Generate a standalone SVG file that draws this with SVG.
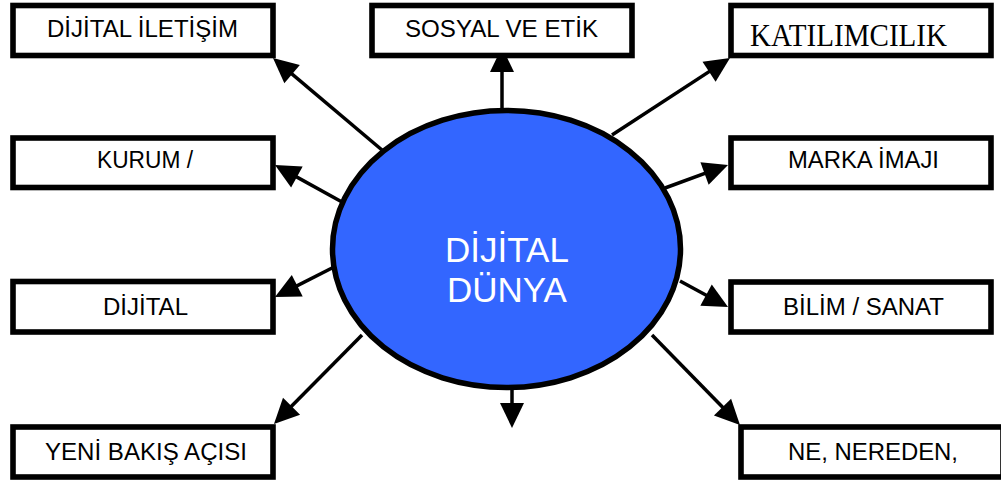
<svg xmlns="http://www.w3.org/2000/svg" width="1001" height="484" viewBox="0 0 1001 484">
  <style>
    .box { fill: #ffffff; stroke: #000000; stroke-width: 5.6; }
    .lbl { font-family: "Liberation Sans", Arial, sans-serif; font-size: 23px; fill: #000000; text-anchor: middle; }
    .serif { font-family: "Liberation Serif", "Times New Roman", serif; font-size: 31px; fill: #000000; }
    .conn { stroke: #000000; stroke-width: 3.5; fill: none; marker-end: url(#head); }
    .hub { fill: #3366FF; stroke: #000000; stroke-width: 5.5; }
    .hubtxt { font-family: "Liberation Sans", Arial, sans-serif; font-size: 35px; fill: #ffffff; text-anchor: middle; }
  </style>
  <defs>
    <marker id="head" markerUnits="userSpaceOnUse" markerWidth="26" markerHeight="25" refX="17" refY="12" orient="auto" overflow="visible">
      <path d="M0,0 L25,12 L0,24 Z" fill="#000000"/>
    </marker>
  </defs>

  <rect width="1001" height="484" fill="#ffffff"/>

  <!-- connectors from the hub outward -->
  <g id="connectors">
    <line class="conn" x1="382" y1="150" x2="279.1" y2="63.2"/>
    <line class="conn" x1="502" y1="112" x2="502" y2="55"/>
    <line class="conn" x1="612" y1="135" x2="723.3" y2="62.4"/>
    <line class="conn" x1="342" y1="202" x2="282" y2="168.9"/>
    <line class="conn" x1="334" y1="267" x2="282.1" y2="293.4"/>
    <line class="conn" x1="362" y1="335" x2="279.6" y2="418.3"/>
    <line class="conn" x1="512" y1="388" x2="512" y2="420"/>
    <line class="conn" x1="665" y1="188" x2="720.5" y2="167.7"/>
    <line class="conn" x1="680" y1="281" x2="721" y2="303.2"/>
    <line class="conn" x1="652" y1="335" x2="734.4" y2="419.3"/>
  </g>

  <!-- central hub -->
  <g id="hub">
    <ellipse class="hub" cx="506.5" cy="249" rx="174" ry="138.5"/>
    <text class="hubtxt" x="507" y="262">DİJİTAL</text>
    <text class="hubtxt" x="507" y="302">DÜNYA</text>
  </g>

  <g id="n-iletisim">
    <rect class="box" x="13" y="5.5" width="260" height="50"/>
    <text class="lbl" x="142.5" y="37" textLength="191" lengthAdjust="spacingAndGlyphs">DİJİTAL İLETİŞİM</text>
  </g>

  <g id="n-sosyal">
    <rect class="box" x="372" y="5.5" width="260" height="50"/>
    <text class="lbl" x="501.5" y="37" textLength="193" lengthAdjust="spacingAndGlyphs">SOSYAL VE ETİK</text>
  </g>

  <g id="n-katilim">
    <rect class="box" x="731" y="5.5" width="260" height="50"/>
    <text class="serif" x="750" y="46" textLength="197" lengthAdjust="spacingAndGlyphs">KATILIMCILIK</text>
  </g>

  <g id="n-kurum">
    <rect class="box" x="13" y="138" width="260" height="49.5"/>
    <text class="lbl" x="145" y="168" textLength="96" lengthAdjust="spacingAndGlyphs">KURUM /</text>
  </g>

  <g id="n-marka">
    <rect class="box" x="731" y="138" width="260" height="49.5"/>
    <text class="lbl" x="863.5" y="168" textLength="151" lengthAdjust="spacingAndGlyphs">MARKA İMAJI</text>
  </g>

  <g id="n-dijital">
    <rect class="box" x="13" y="281.5" width="260" height="50.5"/>
    <text class="lbl" x="145.5" y="315" textLength="85" lengthAdjust="spacingAndGlyphs">DİJİTAL</text>
  </g>

  <g id="n-bilim">
    <rect class="box" x="731" y="282" width="260" height="50"/>
    <text class="lbl" x="863.5" y="315" textLength="161" lengthAdjust="spacingAndGlyphs">BİLİM / SANAT</text>
  </g>

  <g id="n-yeni">
    <rect class="box" x="13" y="427" width="260" height="50"/>
    <text class="lbl" x="146" y="460" textLength="202" lengthAdjust="spacingAndGlyphs">YENİ BAKIŞ AÇISI</text>
  </g>

  <g id="n-ne">
    <rect class="box" x="741" y="427" width="262" height="50"/>
    <text class="lbl" x="873" y="460" textLength="170" lengthAdjust="spacingAndGlyphs">NE, NEREDEN,</text>
  </g>
</svg>
